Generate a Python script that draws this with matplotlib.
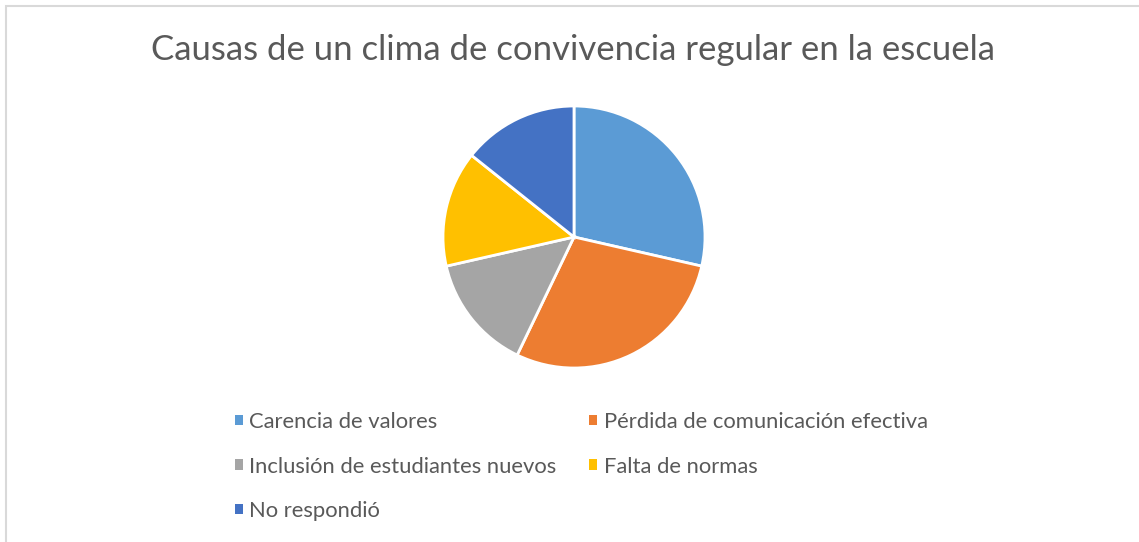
import matplotlib.pyplot as plt
from matplotlib.patches import Rectangle, Patch

plt.rcParams['font.family'] = ['Lato', 'DejaVu Sans']

# datos
categorias = ['Carencia de valores', 'Pérdida de comunicación efectiva',
              'Inclusión de estudiantes nuevos', 'Falta de normas', 'No respondió']
valores = [2, 2, 1, 1, 1]
colores = ['#5B9BD5', '#ED7D31', '#A5A5A5', '#FFC000', '#4472C4']
titulo = 'Causas de un clima de convivencia regular en la escuela'

W, H = 1139, 542
fig = plt.figure(figsize=(W / 100, H / 100), dpi=100)

# marco del gráfico (solo se ven el borde izquierdo y el superior)
fig.patches.append(Rectangle((6 / W, -0.1), 1.2, (H - 6) / H + 0.1, transform=fig.transFigure,
                             fill=False, edgecolor='#D9D9D9', linewidth=1.5))

fig.text(573 / W, 1 - 50 / H, titulo, ha='center', va='center', fontsize=25,
         color='#595959')

r = 131
ax = fig.add_axes([(574 - r) / W, (H - 237 - r) / H, 2 * r / W, 2 * r / H])
ax.pie(valores, colors=colores, startangle=90, counterclock=False,
       wedgeprops={'edgecolor': 'white', 'linewidth': 2})
ax.set_xlim(-1, 1)
ax.set_ylim(-1, 1)

# leyenda por filas, reordenada para ncol=2
orden = [0, 2, 4, 1, 3]
handles = [Patch(facecolor=colores[i], label=categorias[i]) for i in orden]
leg = fig.legend(handles=handles, ncol=2, loc='upper left',
                 bbox_to_anchor=(224 / W, 1 - 401 / H), frameon=False,
                 fontsize=15.8, handlelength=0.35, handleheight=0.35, handletextpad=0.3,
                 columnspacing=1.5, labelspacing=1.12, borderpad=0)
for t in leg.get_texts():
    t.set_color('#595959')

fig.savefig('out.png', dpi=100)
